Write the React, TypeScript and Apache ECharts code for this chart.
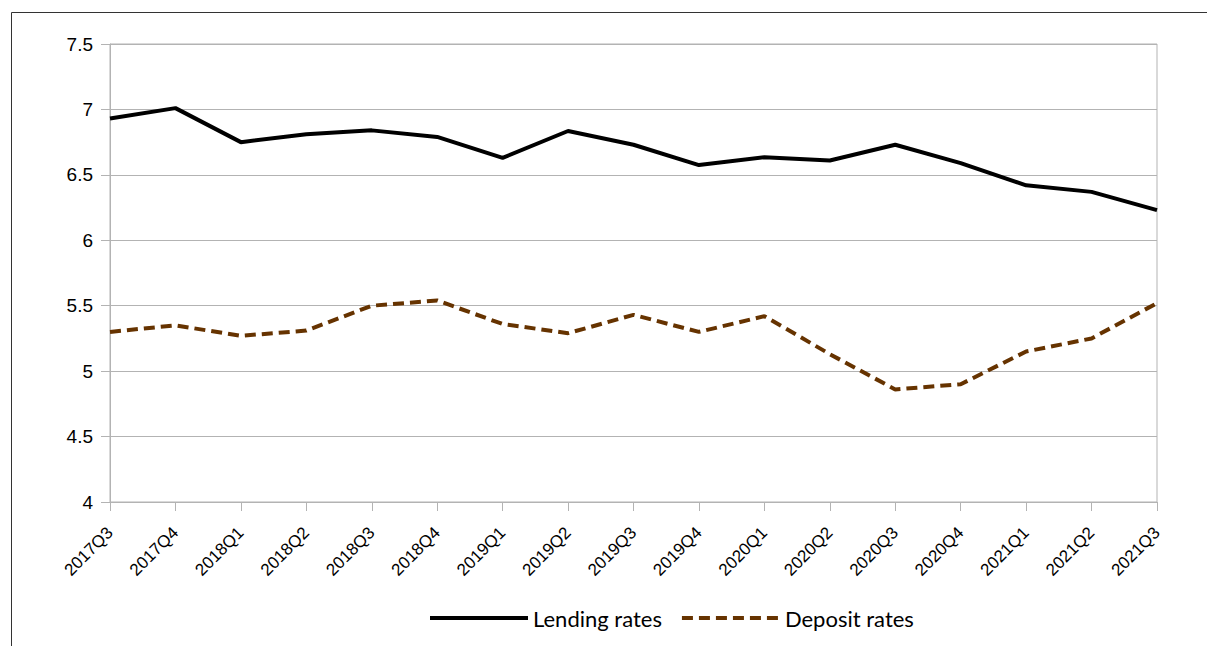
import React, { useEffect, useRef } from "react";
import * as echarts from "echarts";

const categories = [
  "2017Q3", "2017Q4", "2018Q1", "2018Q2", "2018Q3", "2018Q4",
  "2019Q1", "2019Q2", "2019Q3", "2019Q4", "2020Q1", "2020Q2",
  "2020Q3", "2020Q4", "2021Q1", "2021Q2", "2021Q3",
];
const lendingRates = [
  6.93, 7.01, 6.75, 6.81, 6.84, 6.79, 6.63, 6.835, 6.73, 6.575, 6.635, 6.61,
  6.73, 6.59, 6.42, 6.37, 6.23,
];
const depositRates = [
  5.3, 5.35, 5.27, 5.31, 5.5, 5.54, 5.36, 5.29, 5.43, 5.3, 5.42, 5.13,
  4.86, 4.9, 5.15, 5.25, 5.52,
];
const seriesNames = ["Lending rates", "Deposit rates"];

export default function App() {
  const ref = useRef<HTMLDivElement>(null);
  useEffect(() => {
    document.body.style.margin = "0";
    const chart = echarts.init(ref.current!, null, { renderer: "svg" });
    const gray = "#b3b3b3";
    const axisFont = "Liberation Sans";
    chart.setOption({
      animation: false,
      backgroundColor: "#ffffff",
      textStyle: { fontFamily: axisFont },
      graphic: [
        {
          type: "rect",
          shape: { x: 11.5, y: 12.5, width: 1300, height: 700 },
          style: { fill: "none", stroke: "#333333", lineWidth: 1 },
          silent: true,
        },
      ],
      grid: {
        left: 110,
        right: 50,
        top: 44,
        bottom: 144,
        show: true,
        borderColor: gray,
        borderWidth: 1,
        outerBoundsMode: "none",
      },
      legend: {
        data: seriesNames.map((n) => ({ name: n, itemStyle: { opacity: 0 } })),
        left: 428,
        top: 607,
        padding: 0,
        itemWidth: 98,
        itemHeight: 14,
        itemGap: 18,
        lineStyle: { width: 4 },
        textStyle: { fontFamily: "Lato", fontSize: 22, color: "#000" },
      },
      xAxis: {
        type: "category",
        data: categories,
        boundaryGap: false,
        axisLine: { show: true, lineStyle: { color: gray, width: 1 } },
        axisTick: { show: true, length: 9, lineStyle: { color: gray }, interval: 0 },
        axisLabel: {
          interval: 0,
          rotate: 45,
          margin: 28,
          fontFamily: axisFont,
          fontSize: 17,
          color: "#000",
        },
        splitLine: { show: false },
      },
      yAxis: {
        type: "value",
        min: 4,
        max: 7.5,
        interval: 0.5,
        axisLine: { show: true, lineStyle: { color: gray, width: 1 } },
        axisTick: { show: true, length: 9, lineStyle: { color: gray } },
        axisLabel: {
          margin: 17,
          fontFamily: axisFont,
          fontSize: 19,
          color: "#000",
        },
        splitLine: { show: true, lineStyle: { color: gray, width: 1 } },
      },
      series: [
        {
          name: seriesNames[0],
          type: "line",
          data: lendingRates,
          symbol: "none",
          lineStyle: { color: "#000000", width: 4 },
          itemStyle: { color: "#000000" },
        },
        {
          name: seriesNames[1],
          type: "line",
          data: depositRates,
          symbol: "none",
          lineStyle: { color: "#663300", width: 4, type: [11, 6] },
          itemStyle: { color: "#663300" },
        },
      ],
    });
    return () => chart.dispose();
  }, []);
  return <div ref={ref} style={{ width: 1207, height: 646, overflow: "hidden" }} />;
}
